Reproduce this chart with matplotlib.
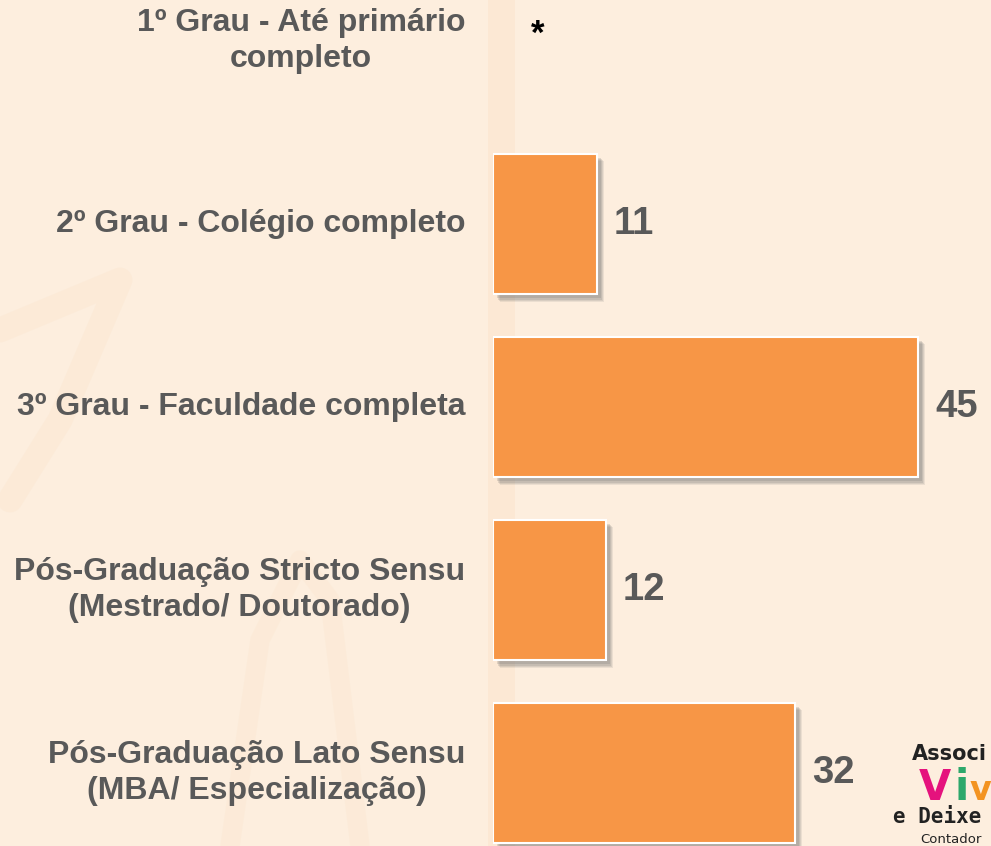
import matplotlib.pyplot as plt
import matplotlib.patheffects as pe

# escolaridade dos respondentes (%)
categories = [
    "1º Grau - Até primário\ncompleto",
    "2º Grau - Colégio completo",
    "3º Grau - Faculdade completa",
    "Pós-Graduação Stricto Sensu\n(Mestrado/ Doutorado)",
    "Pós-Graduação Lato Sensu\n(MBA/ Especialização)",
]
values = [0, 11, 45, 12, 32]
value_labels = ["*", "11", "45", "12", "32"]

BG = "#FDEEDE"
BAR = "#F79646"
TXT = "#595959"

plt.rcParams['font.family'] = ['Liberation Sans', 'DejaVu Sans']

fig = plt.figure(figsize=(9.91, 8.46), dpi=100, facecolor=BG)

# faint background decoration
deco = fig.add_axes([0, 0, 1, 1], zorder=0)
deco.set_xlim(0, 991)
deco.set_ylim(846, 0)
deco.axis('off')
deco.fill_between([488, 515], 0, 846, color="#FCE4CC", alpha=0.5, lw=0)
deco.plot([0, 120, 60, 10], [330, 280, 420, 500], color="#FCE4CC", lw=18, alpha=0.35, solid_capstyle='round')
deco.plot([230, 260, 300, 330, 360], [846, 640, 560, 600, 846], color="#FCE4CC", lw=14, alpha=0.3, solid_capstyle='round')

ax = fig.add_axes([493 / 991, 0, 1 - 493 / 991, 1], zorder=1)
ax.patch.set_alpha(0)
ax.set_xlim(0, 498 / 9.45)
ax.set_ylim((846 - 41) / 183, -41 / 183)
ax.axis('off')

pos = list(range(len(categories)))
shadow = [pe.SimplePatchShadow(offset=(o, -o * 1.1), shadow_rgbFace='#6f6f6f', alpha=a)
          for o, a in [(5.0, 0.12), (4.2, 0.15), (3.4, 0.18), (2.6, 0.2)]]
bar_pos = [p for p, v in zip(pos, values) if v > 0]
bar_val = [v for v in values if v > 0]
ax.barh(bar_pos, bar_val, height=0.77, color=BAR, edgecolor='white', linewidth=1.5,
        path_effects=shadow + [pe.Normal()])

for i, (cat, v, lab) in enumerate(zip(categories, values, value_labels)):
    ax.annotate(cat, xy=(0, i), xytext=(-20, 0), textcoords='offset points',
                ha='right', va='center', multialignment='center', linespacing=1.3,
                fontsize=23, fontweight='bold', color=TXT, annotation_clip=False)
    if v == 0:
        ax.annotate(lab, xy=(0, i), xytext=(32, 5), textcoords='offset points',
                    ha='center', va='center', fontsize=25, fontweight='bold', color='black')
    else:
        ax.annotate(lab, xy=(v, i), xytext=(12, 0), textcoords='offset points',
                    ha='left', va='center', fontsize=27.5, fontweight='bold', color=TXT)

# logo (only the part visible inside the frame)
fig.text(912 / 991, 1 - 760 / 846, "Associ", fontsize=15, fontweight='bold',
         family='DejaVu Sans', color='#222222')
fig.text(919 / 991, 1 - 800 / 846, "V", fontsize=30, fontweight='bold', family='DejaVu Sans', color='#E5127D')
fig.text(954 / 991, 1 - 800 / 846, "i", fontsize=30, fontweight='bold', family='DejaVu Sans', color='#2DA86B')
fig.text(969 / 991, 1 - 800 / 846, "v", fontsize=24, fontweight='bold', family='DejaVu Sans', color='#F39321')
fig.text(893 / 991, 1 - 823 / 846, "e Deixe", fontsize=15, fontweight='bold',
         family='DejaVu Sans Mono', color='#222222')
fig.text(920 / 991, 1 - 843 / 846, "Contador", fontsize=9.5, family='DejaVu Sans', color='#222222')

fig.savefig("out.png", dpi=100, facecolor=BG)
